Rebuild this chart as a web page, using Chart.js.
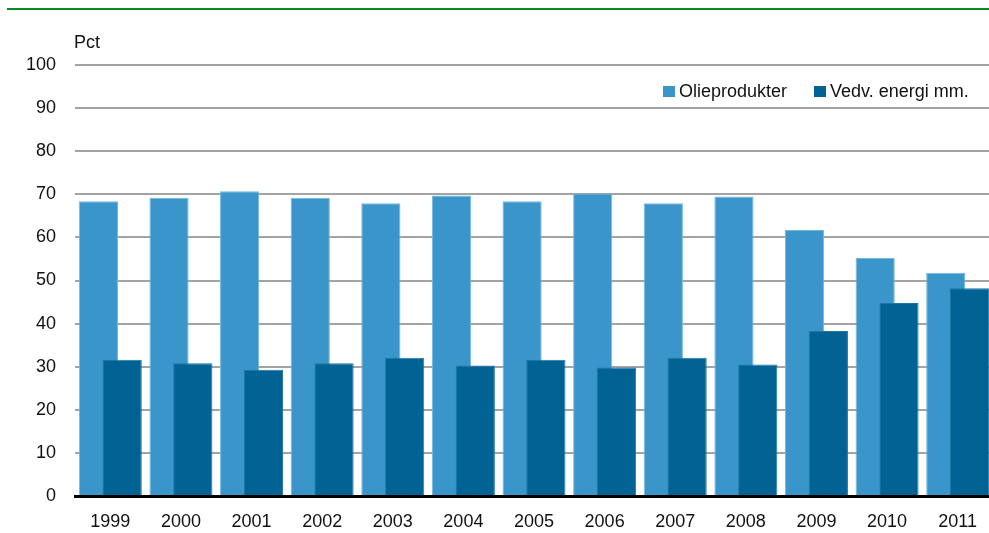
<!DOCTYPE html>
<html>
<head>
<meta charset="utf-8">
<script src="https://cdn.jsdelivr.net/npm/chart.js@4.4.0/dist/chart.umd.min.js"></script>
<style>
html, body { margin: 0; padding: 0; background: #fff; overflow: hidden; }
#wrap { position: relative; width: 1000px; height: 533px; }
#topline { position: absolute; left: 7px; top: 8px; width: 993px; height: 2px; background: #0b8a1f; }
#legend { position: absolute; left: 663px; top: 81px; display: flex; font: 18px "Liberation Sans", Arial, sans-serif; color: #111; }
.item { display: flex; align-items: center; margin-right: 27px; }
.box { width: 12px; height: 11px; margin-right: 4px; }
</style>
</head>
<body>
<div id="wrap">
  <div id="topline"></div>
  <canvas id="chart-share" width="1000" height="533" style="width:1000px;height:533px"></canvas>
  <div id="legend"></div>
</div>
<script>
var years = ['1999', '2000', '2001', '2002', '2003', '2004', '2005', '2006', '2007', '2008', '2009', '2010', '2011'];
var olie = [68.4, 69.2, 70.7, 69.2, 67.9, 69.7, 68.4, 70.2, 67.9, 69.5, 61.7, 55.2, 51.8];
var vedv = [31.6, 30.8, 29.3, 30.8, 32.1, 30.3, 31.6, 29.8, 32.1, 30.5, 38.3, 44.8, 48.2];
var seriesNames = ['Olieprodukter', 'Vedv. energi mm.'];
var seriesColors = ['#3a96ca', '#006394'];
var seriesEdges = ['#74b8e0', '#1f76a3'];
var yMin = 0, yMax = 100, yStep = 10;

var font = '"Liberation Sans", Arial, sans-serif';

// second series sits on top of the first, so draw datasets in forward order
var drawForward = {
    id: 'drawForward',
    beforeDatasetsDraw: function(chart) {
        chart.getSortedVisibleDatasetMetas().forEach(function(meta) {
            meta.controller.draw();
        });
        return false;
    }
};

var pctLabel = {
    id: 'pctLabel',
    afterDraw: function(chart) {
        var ctx = chart.ctx;
        ctx.save();
        ctx.font = '18px ' + font;
        ctx.fillStyle = '#111';
        ctx.textBaseline = 'alphabetic';
        ctx.fillText('Pct', chart.chartArea.left - 1, chart.chartArea.top - 17);
        ctx.restore();
    }
};

var config = {
    type: 'bar',
    data: {
        labels: years,
        datasets: [{
            label: seriesNames[0],
            data: olie,
            backgroundColor: seriesColors[0],
            borderColor: seriesEdges[0],
            borderWidth: 1
        }, {
            label: seriesNames[1],
            data: vedv,
            backgroundColor: seriesColors[1],
            borderColor: seriesEdges[1],
            borderWidth: 1
        }]
    },
    options: {
        responsive: false,
        animation: false,
        categoryPercentage: 0.674,
        barPercentage: 1.647,
        layout: { padding: { top: 65, right: 7, bottom: 0, left: 0 } },
        plugins: {
            legend: { display: false },
            tooltip: { enabled: false }
        },
        scales: {
            x: {
                grid: { display: false, drawTicks: false },
                border: { color: '#000', width: 3 },
                ticks: { color: '#111', padding: 15, font: { family: font, size: 18 } },
                afterFit: function(s) { s.height = 37; }
            },
            y: {
                min: yMin,
                max: yMax,
                grid: {
                    drawTicks: false,
                    lineWidth: 2,
                    color: function(c) { return c.tick && c.tick.value === 0 ? 'rgba(0,0,0,0)' : '#a3a3a3'; }
                },
                border: { display: false },
                ticks: { stepSize: yStep, color: '#111', padding: 19, font: { family: font, size: 18 } },
                afterFit: function(s) { s.width = 75; }
            }
        }
    },
    plugins: [drawForward, pctLabel]
};

var legend = document.getElementById('legend');
seriesNames.forEach(function(name, i) {
    var item = document.createElement('div');
    item.className = 'item';
    var box = document.createElement('span');
    box.className = 'box';
    box.style.background = seriesColors[i];
    var txt = document.createElement('span');
    txt.textContent = name;
    item.appendChild(box);
    item.appendChild(txt);
    legend.appendChild(item);
});

var ctx = document.getElementById('chart-share').getContext('2d');
window.shareChart = new Chart(ctx, config);
</script>
</body>
</html>
